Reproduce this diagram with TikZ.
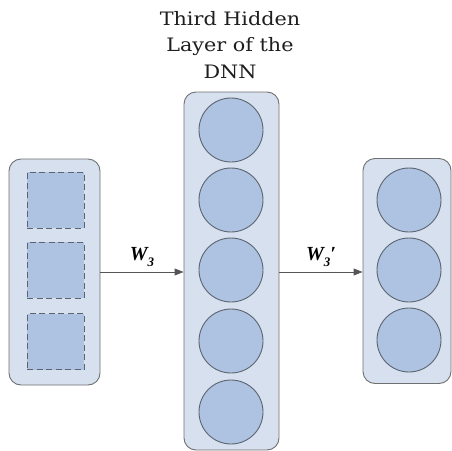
\documentclass[tikz,border=0pt]{standalone}
\usepackage{fontspec}
\usetikzlibrary{arrows.meta}
\newfontfamily\labfont{Liberation Serif}
\newfontfamily\titlefont[FakeStretch=1.12]{DejaVu Serif}

\definecolor{layerfill}{RGB}{214,224,239}
\definecolor{unitfill}{RGB}{174,195,225}
\definecolor{layeredge}{RGB}{112,112,112}
\definecolor{unitedge}{RGB}{92,100,112}
\definecolor{arrowgray}{RGB}{85,85,85}
\definecolor{titleink}{RGB}{30,30,30}

\tikzset{
  layerbox/.style={draw=layeredge, fill=layerfill, line width=0.9pt,
    rounded corners=12pt, inner sep=0pt},
  unit/.style={circle, draw=unitedge, fill=unitfill, line width=0.9pt,
    minimum size=64pt, inner sep=0pt},
  hiddenunit/.style={draw=unitedge, fill=unitfill, line width=0.9pt,
    dash pattern=on 6pt off 3.5pt, minimum width=57pt, minimum height=56pt,
    inner sep=0pt},
  weightarrow/.style={draw=arrowgray, line width=0.9pt,
    -{Triangle[length=9pt,width=7pt]}},
  weightlabel/.style={font=\labfont\fontsize{20}{22}\selectfont\bfseries\itshape,
    inner sep=0pt, above=5pt},
}
\newcommand{\subthree}{\raisebox{-0.32em}{\fontsize{13}{13}\selectfont 3}}

\begin{document}
\begin{tikzpicture}[x=1pt, y=-1pt]
  \useasboundingbox (0,0) rectangle (452,450);

  % layer containers
  \node[layerbox, minimum width=91pt, minimum height=226pt] (inbox) at (54.5,272) {};
  \node[layerbox, minimum width=95pt, minimum height=358pt] (hidden) at (231.5,271) {};
  \node[layerbox, minimum width=88pt, minimum height=225pt] (outbox) at (407,271) {};

  % input units (dashed)
  \node[hiddenunit] (i1) at (55.5,200) {};
  \node[hiddenunit] (i2) at (55.5,270) {};
  \node[hiddenunit] (i3) at (55.5,341.5) {};

  % third hidden layer units
  \foreach \k/\y in {1/130,2/200,3/270,4/341,5/412}
    \node[unit] (h\k) at (231,\y) {};

  % output units
  \foreach \k/\y in {1/200,2/270,3/340}
    \node[unit] (o\k) at (409,\y) {};

  % title of the hidden layer (base anchor sits on the last line)
  \node[align=center, text=titleink, font=\titlefont\fontsize{18.5}{26.5}\selectfont,
    anchor=base] (title) at (230,78) {Third Hidden\\Layer of the\\DNN};

  % weight connections
  \draw[weightarrow] (inbox.east) -- node[weightlabel] (w1) {W\subthree}
    (inbox.east -| hidden.west);
  \draw[weightarrow] (inbox.east -| hidden.east) -- node[weightlabel] (w2) {W\subthree′}
    (inbox.east -| outbox.west);
\end{tikzpicture}
\end{document}
